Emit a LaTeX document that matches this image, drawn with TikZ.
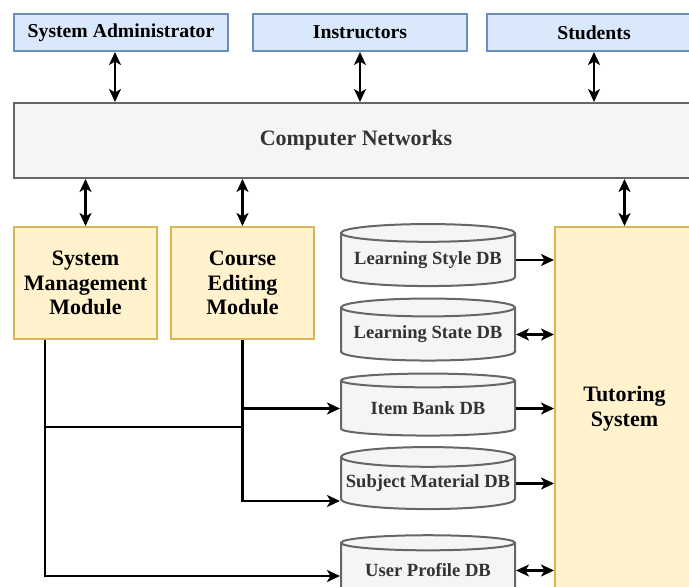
\documentclass[tikz,border=0pt]{standalone}
\usepackage{fontspec}
\setmainfont{Liberation Serif}
\usetikzlibrary{arrows.meta,positioning,calc,shapes.geometric}
\definecolor{ActorBlue}{HTML}{DAE8FC}
\definecolor{ActorLine}{HTML}{6C8EBF}
\definecolor{NetGray}{HTML}{F5F5F5}
\definecolor{NetLine}{HTML}{666666}
\definecolor{ModAmber}{HTML}{FFF2CC}
\definecolor{ModLine}{HTML}{D6B656}
\definecolor{DbText}{HTML}{333333}

\begin{document}
\begin{tikzpicture}[
    x=1pt,y=1pt,
    actor/.style={draw=ActorLine,fill=ActorBlue,line width=2pt,minimum width=214pt,minimum height=37pt,inner sep=0pt,font=\fontsize{19.7}{24}\selectfont\bfseries},
    module/.style={draw=ModLine,fill=ModAmber,line width=2pt,inner sep=0pt,align=center,font=\fontsize{22}{24.5}\selectfont\bfseries},
    db/.style={cylinder,shape border rotate=90,aspect=0.12,draw=NetLine,fill=NetGray,line width=2pt,minimum width=174pt,minimum height=62pt,inner sep=0pt,text=DbText,font=\fontsize{18.6}{22}\selectfont\bfseries},
    arr/.style={-{Stealth[length=13pt,width=12pt,inset=3.5pt]},line width=2.2pt},
    dbl/.style={{Stealth[length=13pt,width=12pt,inset=3.5pt]}-{Stealth[length=13pt,width=12pt,inset=3.5pt]},line width=2.2pt},
    link/.style={line width=2.2pt}
  ]
    \useasboundingbox (0,0) rectangle (689,-587);
    % users
    \node[actor] (admin) at (121,-32.5) {System Administrator};
    \node[actor] (instr) at (360,-32.5) {Instructors};
    \node[actor] (stud) at (594,-32.5) {Students};
    % network
    \node[draw=NetLine,fill=NetGray,line width=2pt,minimum width=684pt,minimum height=75pt,inner sep=0pt,text=DbText,font=\fontsize{22}{24}\selectfont\bfseries] (net) at (356,-140.5) {Computer Networks};
    % modules
    \node[module,minimum width=143pt,minimum height=112pt] (sysmod) at (85.5,-283) {System\\Management\\Module};
    \node[module,minimum width=143pt,minimum height=112pt] (course) at (242.5,-283) {Course\\Editing\\Module};
    \node[module,minimum width=139pt,minimum height=363pt] (tutor) at (624.5,-408.5) {Tutoring\\System};
    % databases
    \node[db] (style) at (428,-260) {Learning Style DB};
    \node[db] (state) at (428,-334.5) {Learning State DB};
    \node[db] (bank) at (428,-408.5) {Item Bank DB};
    \node[db] (subj) at (428,-483.5) {Subject Material DB};
    \node[db] (prof) at (428,-570.5) {User Profile DB};
    % users <-> network
    \draw[dbl] ([xshift=-6pt]admin.south) -- ([xshift=-6pt]admin.south |- net.north);
    \draw[dbl] (instr.south) -- (instr.south |- net.north);
    \draw[dbl] (stud.south) -- (stud.south |- net.north);
    % network <-> modules
    \draw[dbl] (net.south -| sysmod.north) -- (sysmod.north);
    \draw[dbl] (net.south -| course.north) -- (course.north);
    \draw[dbl] (net.south -| tutor.north) -- (tutor.north);
    % databases -> tutoring system
    \draw[arr] (style.east) -- (style.east -| tutor.west);
    \draw[dbl] (state.east) -- (state.east -| tutor.west);
    \draw[arr] (bank.east) -- (bank.east -| tutor.west);
    \draw[arr] (subj.east) -- (subj.east -| tutor.west);
    \draw[dbl] (prof.east) -- (prof.east -| tutor.west);
    % modules -> databases
    \coordinate (smfoot) at ([xshift=-40.5pt]sysmod.south);
    \coordinate (joint) at (course.south |- 0,-427);
    \draw[arr] (smfoot) |- ([yshift=-5.5pt]prof.west);
    \draw[link] (smfoot |- joint) -- (joint);
    \draw[arr] (course.south) |- ([yshift=-17.5pt]subj.west);
    \draw[arr] (course.south |- bank.west) -- (bank.west);
  \end{tikzpicture}
\end{document}
